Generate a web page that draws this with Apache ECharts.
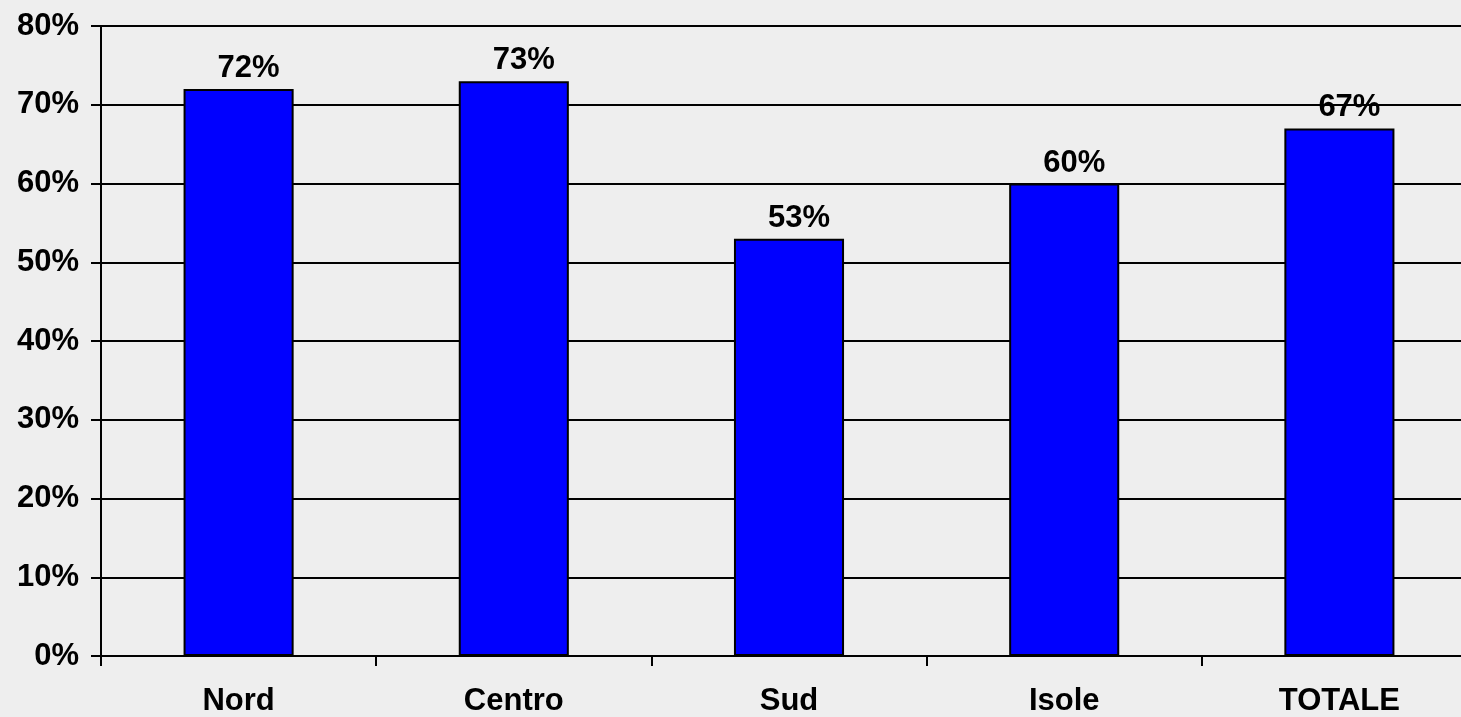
<!DOCTYPE html>
<html><head><meta charset="utf-8">
<script src="https://cdn.jsdelivr.net/npm/echarts@6/dist/echarts.min.js"></script>
<style>html,body{margin:0;padding:0;background:#eeeeee;overflow:hidden}#c{width:1477px;height:717px}</style>
</head><body><div id="c"></div>
<script>
const categories = ['Nord', 'Centro', 'Sud', 'Isole', 'TOTALE'];
const values = [72, 73, 53, 60, 67];
const chart = echarts.init(document.getElementById('c'));
const font = 'Liberation Sans, Arial, sans-serif';
chart.setOption({
  backgroundColor: '#eeeeee',
  animation: false,
  grid: {left: 101, right: 0, top: 26, bottom: 60, containLabel: false},
  xAxis: {
    type: 'category', data: categories,
    axisLine: {lineStyle: {color: '#000', width: 2}},
    axisTick: {show: true, length: 10, lineStyle: {color: '#000', width: 2}},
    axisLabel: {color: '#000', fontFamily: font, fontWeight: 'bold', fontSize: 31, margin: 30}
  },
  yAxis: {
    type: 'value', min: 0, max: 80, interval: 10,
    axisLine: {show: true, lineStyle: {color: '#000', width: 2}},
    axisTick: {show: true, length: 10, lineStyle: {color: '#000', width: 2}},
    axisLabel: {color: '#000', fontFamily: font, fontWeight: 'bold', fontSize: 31, margin: 22, formatter: '{value}%'},
    splitLine: {lineStyle: {color: '#000', width: 2}}
  },
  series: [{
    type: 'bar', data: values, barWidth: '40%',
    itemStyle: {color: '#0000ff', borderColor: '#000', borderWidth: 2},
    label: {show: true, position: 'top', distance: 5, offset: [10, 0], formatter: '{c}%', color: '#000', fontFamily: font, fontWeight: 'bold', fontSize: 31}
  }]
});
</script></body></html>
